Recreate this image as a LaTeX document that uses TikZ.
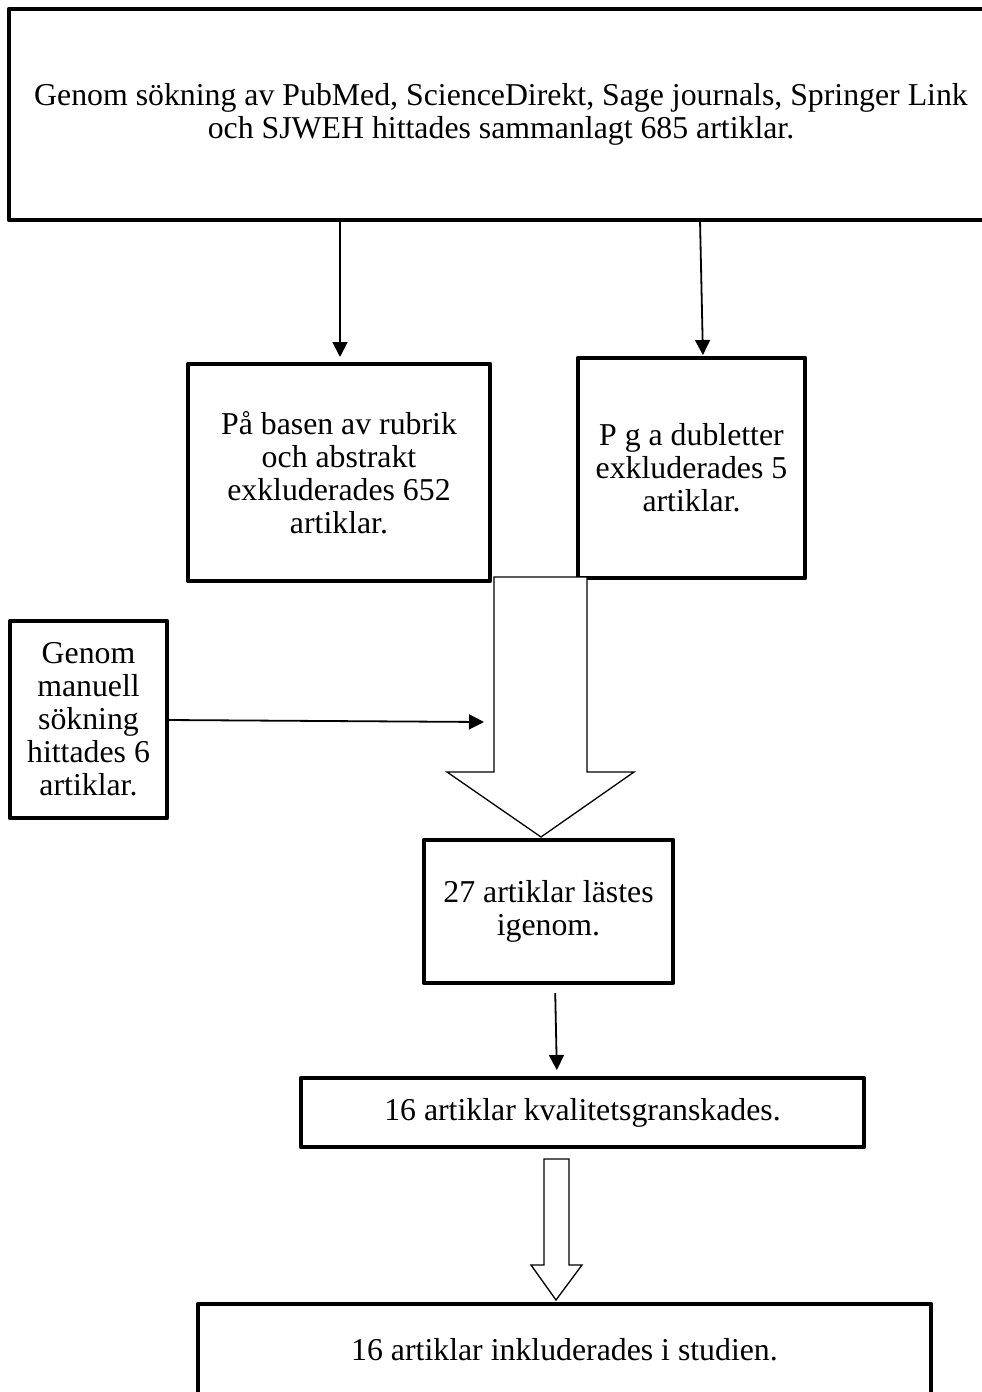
\documentclass[tikz,border=0pt]{standalone}
\usepackage{fontspec}
\setmainfont{Liberation Serif}
\usetikzlibrary{arrows.meta}
\begin{document}
\begin{tikzpicture}[x=1pt,y=-1pt,
  box/.style={draw, line width=4.5pt, line join=round, inner sep=0pt, outer sep=0pt,
    align=center, font=\fontsize{31.8}{33}\selectfont},
  arr/.style={line width=1.8pt, -{Triangle[width=15pt,length=15pt]}},
  blk/.style={draw, line width=1.3pt, fill=white, line join=miter}]
\useasboundingbox (0,0) rectangle (982,1392);
\fill[white] (0,0) rectangle (982,1392);

% boxes
\node[box, minimum width=984pt, minimum height=211pt] (top) at (501,114.5)
  {Genom sökning av PubMed, ScienceDirekt, Sage journals, Springer Link\\och SJWEH hittades sammanlagt 685 artiklar.};
\node[box, minimum width=302pt, minimum height=217pt] (rubrik) at (339,472.5)
  {På basen av rubrik\\och abstrakt\\exkluderades 652\\artiklar.};
\node[box, minimum width=227pt, minimum height=220pt] (dubl) at (691.5,468)
  {P g a dubletter\\exkluderades 5\\artiklar.};
\node[box, minimum width=157pt, minimum height=197pt] (manuell) at (88.5,719.5)
  {Genom\\manuell\\sökning\\hittades 6\\artiklar.};
\node[box, minimum width=249pt, minimum height=143pt] (last) at (548.5,911.5)
  {27 artiklar lästes\\igenom.};
\node[box, minimum width=563pt, minimum height=69pt] (kval) at (582.5,1112.5)
  {16 artiklar kvalitetsgranskades.};
\node[box, minimum width=733pt, minimum height=92pt] (inkl) at (564.5,1350)
  {16 artiklar inkluderades i studien.};

% block arrows
\draw[blk] (494,577) -- (494,772) -- (447,772) -- (541,837) -- (634,772) -- (587,772) -- (587,577) -- cycle;
\coordinate (inflow) at (484,722);
\draw[blk] (544,1159) -- (544,1265) -- (531,1265) -- (556,1300) -- (582,1265) -- (569,1265) -- (569,1159) -- cycle;

% thin arrows
\draw[arr, shorten >=7pt] ([xshift=1pt]rubrik.north |- top.south) -- ([xshift=1pt]rubrik.north);
\draw[arr, shorten >=3pt] ([xshift=8.5pt]dubl.north |- top.south) -- ([xshift=11.5pt]dubl.north);
\draw[arr] ([yshift=-0.5pt]manuell.east) -- (inflow);
\draw[arr, shorten <=10pt, shorten >=8pt] ([xshift=6.5pt]last.south) -- ([xshift=-25.5pt]kval.north);
\end{tikzpicture}
\end{document}
